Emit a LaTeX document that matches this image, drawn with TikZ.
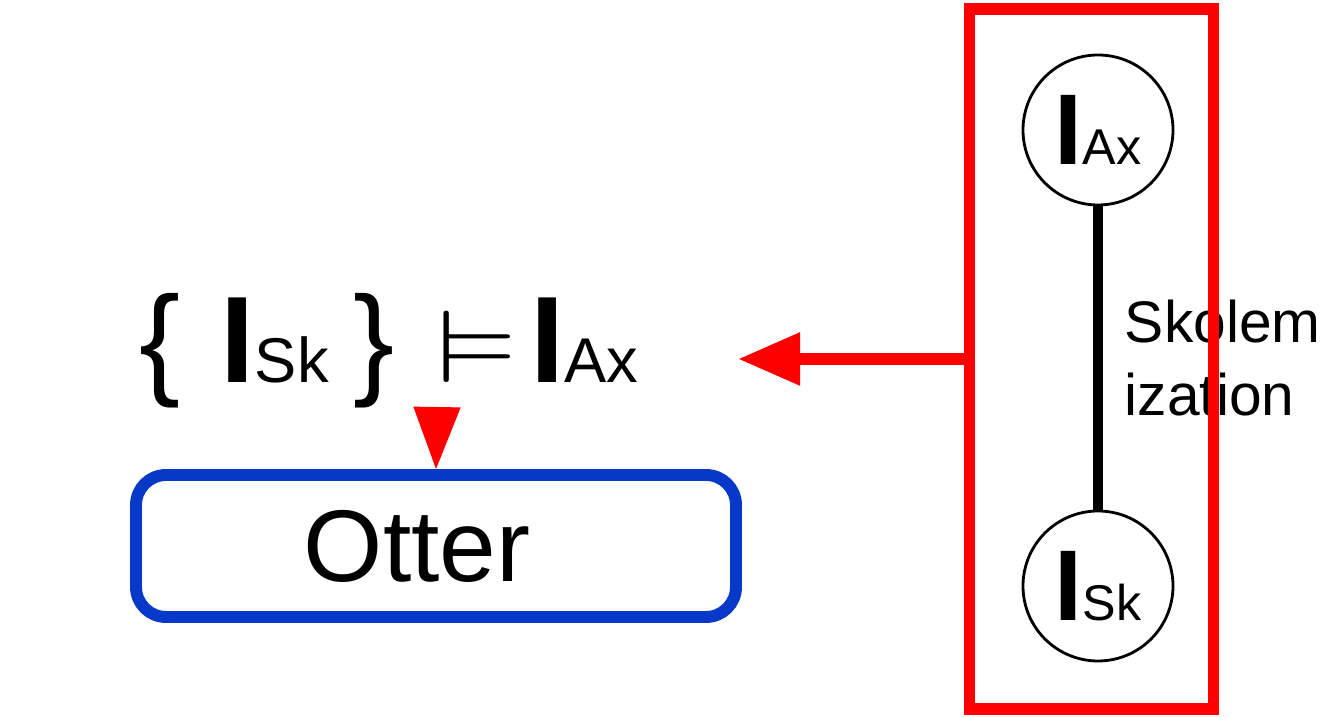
\documentclass[tikz,border=0pt]{standalone}
\usepackage{amssymb}
\usepackage{fontspec}
\setmainfont{Liberation Sans}
\usetikzlibrary{arrows.meta, positioning}
\definecolor{otterblue}{RGB}{8,56,200}
\newcommand{\bigsz}{\fontsize{35}{42}\selectfont}
\newcommand{\subsz}{\fontsize{18}{22}\selectfont}
\newcommand{\circI}[1]{{\fontsize{28.6}{34}\selectfont\bfseries I}{\fontsize{14.3}{17}\selectfont #1}}
\tikzset{
  interp/.style={circle, draw, fill=white, line width=0.8pt, minimum size=1.5cm, inner sep=0pt},
  skedge/.style={line width=2.8pt},
  redframe/.style={draw=red, line width=3.4pt, minimum width=2.44cm, minimum height=7.0cm, inner sep=0pt},
  redarrow/.style={red, line width=3.4pt, -{Triangle[length=6.2mm, width=5mm]}},
  droparrow/.style={red, line width=0.4pt, -{Triangle[length=6.2mm, width=4.7mm]}},
  prover/.style={draw=otterblue, line width=3.4pt, rounded corners=3mm,
    minimum width=6cm, minimum height=1.42cm, font=\fontsize{29}{34}\selectfont},
}

\begin{document}
\begin{tikzpicture}

\useasboundingbox (0,0) rectangle (13.33,-7.17);

%% ─── Skolemization: the two interpretations ─────────────────────────────────
\node[interp] (ax) at (10.98,-1.30) {\circI{Ax}};
\node[interp] (sk) at (10.98,-5.86) {\circI{Sk}};
\draw[skedge] (ax) -- (sk)
  node[midway, right=0.22cm, inner sep=0pt, align=left, font=\fontsize{16.7}{20.8}\selectfont] (sklabel) {Skolem\\ization};

%% ─── Frame round them ───────────────────────────────────────────────────────
\node[redframe] (skbox) at (10.915,-3.59) {};

%% ─── Entailment and prover ──────────────────────────────────────────────────
\node[anchor=base west, inner sep=0pt] (entail) at (1.39,-3.83)
  {{\bigsz\{}\hspace{0.40cm}{\bigsz\bfseries I}{\subsz Sk}\hspace{0.25cm}{\bigsz\}}\hspace{0.42cm}{\fontsize{38}{44}\selectfont\scalebox{1}[0.77]{$\vDash$}}\hspace{0.12cm}{\bigsz\bfseries I}{\subsz Ax}};
\node[prover] (otter) at (4.36,-5.46) {Otter\hspace*{0.38cm}};

\coordinate (arrowtip) at (7.38,-3.59);
\coordinate (drop) at (4.37,-4.07);

%% ─── Arrows ─────────────────────────────────────────────────────────────────
\draw[redarrow] (skbox.west) -- (arrowtip);
\draw[droparrow] (drop) -- (otter.north);

\end{tikzpicture}
\end{document}
